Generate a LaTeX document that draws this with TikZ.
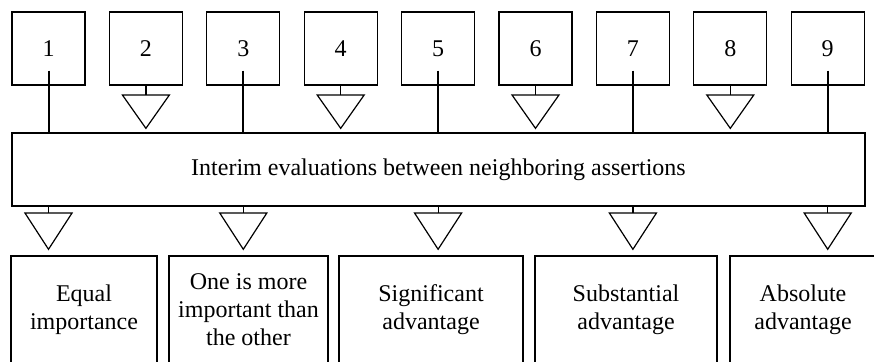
\documentclass[tikz,border=0pt]{standalone}
\usepackage{fontspec}
\setmainfont{Liberation Serif}
\usetikzlibrary{arrows.meta}
\tikzset{
 num/.style={draw,line width=0.6pt,minimum size=36.5pt,inner sep=0pt},
 grade/.style={draw,line width=0.6pt,minimum height=54pt,align=center,inner sep=0pt},
 link/.style={line width=1pt},
 tri/.style={line width=0.6pt,-{Triangle[open,length=17.5pt,width=24.5pt]},shorten >=1.5pt},
 trib/.style={line width=0.6pt,-{Triangle[open,length=19pt,width=24.5pt]},shorten >=2.5pt},
}
\begin{document}
\begin{tikzpicture}[x=0.5pt,y=0.5pt,font=\fontsize{12pt}{14pt}\selectfont]
 \path[use as bounding box,clip] (0,0) rectangle (874,361);
 \node[num] (s1) at (48.5,312.5) {1};
 \node[num] (s2) at (145.9,312.5) {2};
 \node[num] (s3) at (243.3,312.5) {3};
 \node[num] (s4) at (340.7,312.5) {4};
 \node[num] (s5) at (438.1,312.5) {5};
 \node[num] (s6) at (535.5,312.5) {6};
 \node[num] (s7) at (632.9,312.5) {7};
 \node[num] (s8) at (730.3,312.5) {8};
 \node[num] (s9) at (827.7,312.5) {9};
 \node[draw,line width=0.6pt,minimum width=426.5pt,minimum height=36.5pt,inner sep=0pt] (inter) at (438.5,191.5) {Interim evaluations between neighboring assertions};
 \node[grade,minimum width=73pt] (g1) at (84,51) {Equal\\importance};
 \node[grade,minimum width=79.5pt] (g2) at (248.5,51) {One is more\\important than\\the other};
 \node[grade,minimum width=92pt] (g3) at (431,51) {Significant\\advantage};
 \node[grade,minimum width=91pt] (g4) at (626,51) {Substantial\\advantage};
 \node[grade,minimum width=73pt] (g5) at (803,51) {Absolute\\advantage};
 \draw[link] ([yshift=7.5pt]s1.south) -- (s1 |- inter.north);
 \draw[link] ([yshift=7.5pt]s3.south) -- (s3 |- inter.north);
 \draw[link] ([yshift=7.5pt]s5.south) -- (s5 |- inter.north);
 \draw[link] ([yshift=7.5pt]s7.south) -- (s7 |- inter.north);
 \draw[link] ([yshift=7.5pt]s9.south) -- (s9 |- inter.north);
 \draw[tri] (s2.south) -- (s2 |- inter.north);
 \draw[tri] (s4.south) -- (s4 |- inter.north);
 \draw[tri] (s6.south) -- (s6 |- inter.north);
 \draw[tri] (s8.south) -- (s8 |- inter.north);
 \draw[trib] (s1 |- inter.south) -- (s1 |- g1.north);
 \draw[trib] (s3 |- inter.south) -- (s3 |- g2.north);
 \draw[trib] (s5 |- inter.south) -- (s5 |- g3.north);
 \draw[trib] (s7 |- inter.south) -- (s7 |- g4.north);
 \draw[trib] (s9 |- inter.south) -- (s9 |- g5.north);
\end{tikzpicture}
\end{document}
